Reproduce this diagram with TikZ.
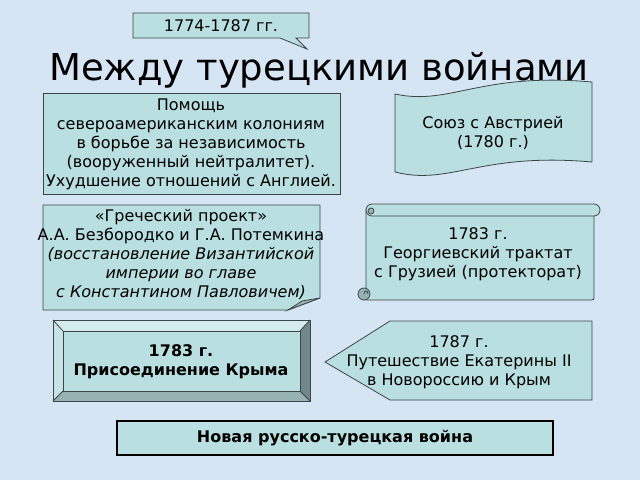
\documentclass[tikz,border=0pt]{standalone}
\usepackage{fontspec}
\setmainfont{DejaVu Sans}
\definecolor{bg}{RGB}{214,229,244}
\definecolor{boxfill}{RGB}{185,223,225}
\definecolor{edge}{RGB}{60,70,70}
\definecolor{bevtop}{RGB}{212,236,237}
\definecolor{bevleft}{RGB}{198,228,229}
\definecolor{bevright}{RGB}{112,136,137}
\definecolor{bevbot}{RGB}{150,178,179}
\definecolor{flap}{RGB}{150,178,179}
\begin{document}
\begin{tikzpicture}[x=1pt,y=-1pt,
  shp/.style={fill=boxfill, draw=edge, line width=0.8pt},
  txt/.style={align=center, font=\fontsize{16}{19}\selectfont, inner sep=0pt},
  btxt/.style={align=center, font=\fontsize{16}{19}\selectfont\bfseries, inner sep=0pt}]
\useasboundingbox (0,0) rectangle (640,480);
\fill[bg] (0,0) rectangle (640,480);

% callout
\path[shp] (133,13) -- (309,13) -- (309,38) -- (296,38) -- (307,49) -- (280,38) -- (133,38) -- cycle;
\node[txt] (dates) at (221,25.5) {1774-1787 гг.};

% title
\node[anchor=base, inner sep=0pt, font=\fontsize{37}{44}\selectfont] (title) at (319,80) {Между турецкими войнами};

% box 1
\path[shp] (43,93) rectangle (340,194);
\node[txt] (help) at (191,144) {Помощь\\североамериканским колониям\\в борьбе за независимость\\(вооруженный нейтралитет).\\Ухудшение отношений с Англией.};

% wave
\path[shp] (395,94) .. controls (450,106) and (480,72) .. (592,82) -- (592,162) .. controls (480,152) and (450,186) .. (395,172) -- cycle;
\node[txt] (austria) at (493,133) {Союз с Австрией\\(1780 г.)};

% folded corner box
\path[shp] (43,205) -- (320,205) -- (320,298) -- (288,310) -- (43,310) -- cycle;
\path[fill=flap, draw=edge, line width=0.8pt] (288,310) -- (302,301) -- (320,298) -- cycle;
\node[txt] (greek) at (181,254) {«Греческий проект»\\А.А. Безбородко и Г.А. Потемкина\\\itshape (восстановление Византийской\\\itshape империи во главе\\\itshape с Константином Павловичем)};

% scroll
\path[shp] (366,210) -- (366,300) -- (589,300) .. controls (594,300) .. (594,295) -- (594,210) -- cycle;
\path[shp, rounded corners=6pt] (366,204) rectangle (600,216);
\path[fill=flap, draw=edge, line width=0.8pt] (371,211) circle (3);
\path[fill=flap, draw=edge, line width=0.8pt] (364,294) circle (6);
\draw[edge, line width=0.8pt] (364,294) .. controls (364,290) and (368,290) .. (368,294);
\node[txt] (georg) at (478,254) {1783 г.\\Георгиевский трактат\\с Грузией (протекторат)};

% bevel box
\fill[bevtop] (53,320) -- (310,320) -- (300,331) -- (63,331) -- cycle;
\fill[bevleft] (53,320) -- (63,331) -- (63,391) -- (53,401) -- cycle;
\fill[bevright] (310,320) -- (310,401) -- (300,391) -- (300,331) -- cycle;
\fill[bevbot] (53,401) -- (310,401) -- (300,391) -- (63,391) -- cycle;
\path[shp] (63,331) rectangle (300,391);
\draw[edge, line width=0.8pt] (53,320) rectangle (310,401);
\draw[edge, line width=0.8pt] (53,320) -- (63,331) (310,320) -- (300,331) (310,401) -- (300,391) (53,401) -- (63,391);
\node[btxt] (crimea) at (181,362) {1783 г.\\Присоединение Крыма};

% pentagon
\path[shp] (325,362) -- (390,321) -- (592,321) -- (592,400) -- (390,400) -- cycle;
\node[txt] (trip) at (459,362) {1787 г.\\Путешествие Екатерины II\\в Новороссию и Крым};

% bottom box
\path[fill=boxfill, draw=black, line width=2pt] (117,421) rectangle (553,455);
\node[btxt] (war) at (335,438) {Новая русско-турецкая война};
\end{tikzpicture}
\end{document}
